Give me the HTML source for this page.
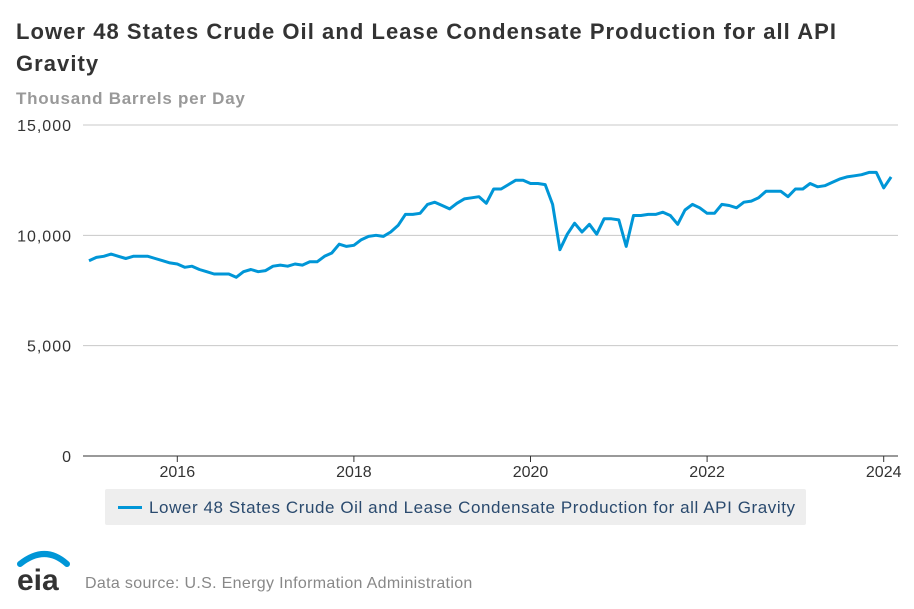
<!DOCTYPE html>
<html><head><meta charset="utf-8"><style>
body{margin:0;background:#fff;font-family:"Liberation Sans",sans-serif;}
#wrap{position:relative;width:914px;height:609px;overflow:hidden;}
.t{position:absolute;white-space:nowrap;}
</style></head><body>
<div id="wrap">
<div class="t" style="left:16px;top:16px;font-size:22px;letter-spacing:1.05px;font-weight:bold;color:#333;line-height:32px;">Lower 48 States Crude Oil and Lease Condensate Production for all API<br>Gravity</div>
<div class="t" style="left:16px;top:89px;font-size:17px;letter-spacing:0.75px;font-weight:bold;color:#999;">Thousand Barrels per Day</div>
<svg id="chart" width="914" height="609" style="position:absolute;left:0;top:0"></svg>
<div style="position:absolute;left:105px;top:489px;width:701px;height:36px;background:#eeeeee;border-radius:2px;">
<div style="position:absolute;left:13px;top:17px;width:24px;height:3px;background:#0096d7;"></div>
<div class="t" style="left:44px;top:9px;font-size:17px;letter-spacing:0.58px;color:#2a4a6e;">Lower 48 States Crude Oil and Lease Condensate Production for all API Gravity</div>
</div>
<svg width="60" height="45" style="position:absolute;left:15px;top:550px">
<path d="M5 14 Q30 -6 52 14" stroke="#0096d7" stroke-width="6" fill="none" stroke-linecap="round"/>
<text x="2" y="40" font-family="Liberation Sans,sans-serif" font-size="30" font-weight="bold" fill="#333">eia</text>
</svg>
<div class="t" style="left:85px;top:575px;font-size:16px;letter-spacing:0.33px;color:#888;">Data source: U.S. Energy Information Administration</div>
</div>
<script>
const startYear = 2015;
const values = [
8850,9000,9050,9150,9050,8950,9050,9050,9050,8950,8850,8750,
8700,8550,8600,8450,8350,8250,8250,8250,8100,8350,8450,8350,
8400,8600,8650,8600,8700,8650,8800,8800,9050,9200,9600,9500,
9550,9800,9950,10000,9950,10150,10450,10950,10950,11000,11400,11500,
11350,11200,11450,11650,11700,11750,11450,12100,12100,12300,12500,12500,
12350,12350,12300,11400,9350,10050,10550,10150,10500,10050,10750,10750,
10700,9500,10900,10900,10950,10950,11050,10900,10500,11150,11400,11250,
11000,11000,11400,11350,11250,11500,11550,11700,12000,12000,12000,11750,
12100,12100,12350,12200,12250,12400,12550,12650,12700,12750,12850,12850,
12150,12650];
const yTicks = [0,5000,10000,15000];
const yTickLabels = ["0","5,000","10,000","15,000"];
const xTicks = [2016,2018,2020,2022,2024];
const xTickLabels = ["2016","2018","2020","2022","2024"];

const NS="http://www.w3.org/2000/svg";
const svg=document.getElementById('chart');
const x0=89, pxYear=88.3, yBase=456, pxUnit=331/15000;
function xs(t){return x0+(t-startYear)*pxYear;}
function ys(v){return yBase-v*pxUnit;}
function mk(tag,attrs){const e=document.createElementNS(NS,tag);for(const k in attrs)e.setAttribute(k,attrs[k]);svg.appendChild(e);return e;}
yTicks.forEach((v,i)=>{
  if(v>0){
    const g=mk('line',{x1:83,x2:898,y1:ys(v),y2:ys(v),stroke:'#c8c8c8','stroke-width':1});
    
    
  }
  const t=mk('text',{x:72,y:ys(v)+6,'text-anchor':'end','font-size':16,'letter-spacing':1,fill:'#333','font-family':'Liberation Sans,sans-serif'});
  t.textContent=yTickLabels[i];
  
  
});
const ax=mk('line',{x1:83,x2:898,y1:yBase,y2:yBase,stroke:'#333','stroke-width':1});


xTicks.forEach((yr,i)=>{
  const tk=mk('line',{x1:xs(yr),x2:xs(yr),y1:yBase,y2:yBase+6,stroke:'#333'});
  
  
  const t=mk('text',{x:xs(yr),y:yBase+21,'text-anchor':'middle','font-size':16,fill:'#333','font-family':'Liberation Sans,sans-serif'});
  t.textContent=xTickLabels[i];
  
  
});
const pts=values.map((v,i)=>xs(startYear+i/12).toFixed(1)+','+ys(v).toFixed(1)).join(' ');
const line=mk('polyline',{points:pts,fill:'none',stroke:'#0096d7','stroke-width':3,'stroke-linejoin':'round'});


</script>
</body></html>
